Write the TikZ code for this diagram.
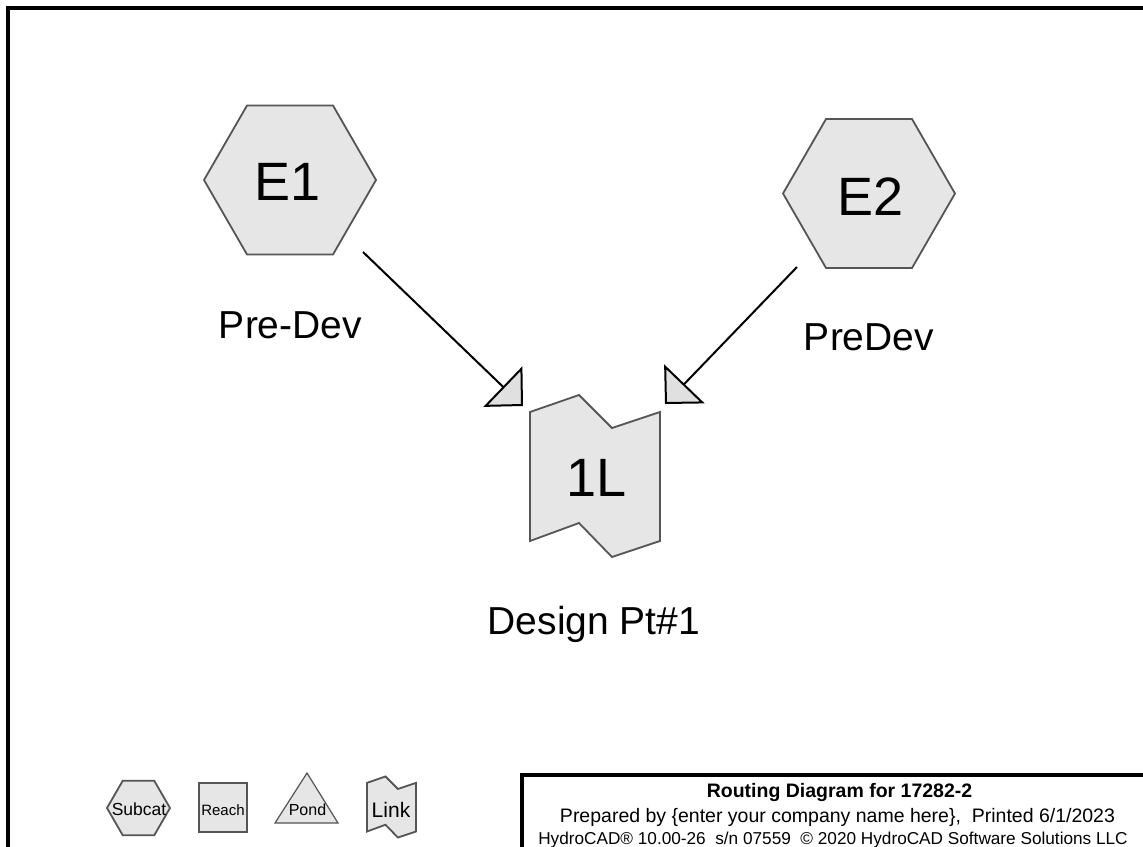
\documentclass[tikz,border=0pt]{standalone}
\usepackage{fontspec}
\setmainfont{Liberation Sans}
\usetikzlibrary{shapes.geometric,arrows.meta}
\definecolor{nodefill}{RGB}{230,230,230}
\definecolor{nodeline}{RGB}{85,85,85}
\definecolor{tipfill}{RGB}{224,224,224}
\tikzset{
  hexnode/.style={regular polygon, regular polygon sides=6, draw=nodeline, fill=nodefill,
    line width=1.8pt, inner sep=0pt, outer sep=0pt},
  shapeline/.style={draw=nodeline, fill=nodefill, line width=1.8pt, line join=miter},
  bigtxt/.style={font=\fontsize{54}{60}\selectfont, inner sep=0pt},
  labtxt/.style={font=\fontsize{39}{44}\selectfont, inner sep=0pt},
  conn/.style={line width=2pt, -{Triangle[length=28pt,width=56pt,fill=tipfill,line join=miter]}},
  frameline/.style={line width=4pt},
  pics/linkshape/.style={code={
    \path[shapeline] (-65,-64) -- (-16,-81) -- (17,-48) -- (65,-64) -- (65,65) -- (17,81) -- (-16,47) -- (-65,65) -- cycle;
  }}
}
\begin{document}
\begin{tikzpicture}[x=1pt,y=-1pt]
\useasboundingbox (0,0) rectangle (1143,846);
\fill[white] (0,0) rectangle (1143,846);
% outer frame
\draw[frameline] (7.5,900) -- (7.5,7.5) -- (1170,7.5);
% title box
\draw[frameline] (522,900) -- (522,775) -- (1170,775);

% subcatchments
\node[hexnode, minimum size=172pt] (E1) at (290,180) {};
\node[bigtxt] (E1t) at (288,182) {E1};
\node[hexnode, minimum size=172pt] (E2) at (869,193.5) {};
\node[bigtxt] (E2t) at (870.5,197) {E2};

\node[labtxt] (E1lab) at (290.5,325) {Pre-Dev};
\node[labtxt] (E2lab) at (869,337.5) {PreDev};

% link
\pic (L1shape) at (595,476) {linkshape};
\node[bigtxt] (L1) at (597,478) {1L};
\node[labtxt, anchor=base] (L1lab) at (594,634) {Design Pt\#1};

% connectors
\coordinate (s1) at (363,252);
\coordinate (t1) at (523,406);
\coordinate (s2) at (797,267);
\coordinate (t2) at (665,404);
\draw[conn] (s1) -- (t1);
\draw[conn] (s2) -- (t2);

% legend
\node[hexnode, minimum size=63pt] (legsub) at (138.5,808) {};
\node[font=\fontsize{17.5}{20}\selectfont, anchor=base, inner sep=0pt] (legsubt) at (139,815) {Subcat};
\node[draw=nodeline, fill=nodefill, line width=1.2pt, minimum width=48pt, minimum height=49pt, inner sep=0pt] (legreach) at (223,807.5) {};
\node[font=\fontsize{15}{18}\selectfont, anchor=base, inner sep=0pt] (legreacht) at (223,815) {Reach};
\path[shapeline, line width=1.2pt] (307,773) -- (338,823) -- (275,823) -- cycle;
\node[font=\fontsize{16}{18}\selectfont, anchor=base, inner sep=0pt] (legpond) at (307.5,815) {Pond};
\pic[scale=0.377] (leglinkshape) at (391.5,807) {linkshape};
\node[font=\fontsize{21}{24}\selectfont, anchor=base, inner sep=0pt] (leglink) at (391,817) {Link};

% title block
\node[font=\bfseries\fontsize{19.5}{22}\selectfont, anchor=base, inner sep=0pt] (title1) at (839.5,797) {Routing Diagram for 17282-2};
\node[font=\fontsize{19.5}{22}\selectfont, anchor=base, inner sep=0pt] (title2) at (837.5,822) {Prepared by \{enter your company name here\},\ \ Printed 6/1/2023};
\node[font=\fontsize{17.2}{20}\selectfont, anchor=base, inner sep=0pt] (title3) at (833,844) {HydroCAD® 10.00-26\ \ s/n 07559\ \ © 2020 HydroCAD Software Solutions LLC};
\end{tikzpicture}
\end{document}
